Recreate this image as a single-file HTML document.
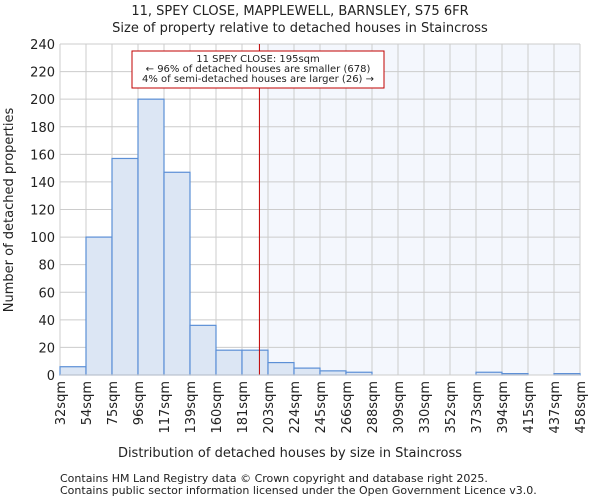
<!DOCTYPE html>
<html><head><meta charset="utf-8"><style>
body{margin:0;background:#fff;font-family:"DejaVu Sans","Liberation Sans",sans-serif;}
svg text{font-family:"DejaVu Sans","Liberation Sans",sans-serif;fill:#222;}
</style></head><body>
<svg id="c" width="600" height="500">
<text x="300" y="15" text-anchor="middle" font-size="13">11, SPEY CLOSE, MAPPLEWELL, BARNSLEY, S75 6FR</text>
<text x="300" y="32" text-anchor="middle" font-size="13">Size of property relative to detached houses in Staincross</text>
<text x="290" y="457" text-anchor="middle" font-size="13">Distribution of detached houses by size in Staincross</text>
<text transform="translate(13,210) rotate(-90)" text-anchor="middle" font-size="13">Number of detached properties</text>
<text x="60" y="482" font-size="11" fill="#444">Contains HM Land Registry data © Crown copyright and database right 2025.</text>
<text x="60" y="494" font-size="11" fill="#444">Contains public sector information licensed under the Open Government Licence v3.0.</text>
<g id="plot"></g>
</svg>
<script>
const edges=["32sqm","54sqm","75sqm","96sqm","117sqm","139sqm","160sqm","181sqm","203sqm","224sqm","245sqm","266sqm","288sqm","309sqm","330sqm","352sqm","373sqm","394sqm","415sqm","437sqm","458sqm"];
const counts=[6,100,157,200,147,36,18,18,9,5,3,2,0,0,0,0,2,1,0,1];
const yTicks=[0,20,40,60,80,100,120,140,160,180,200,220,240];
const markerIndex=7.67;
const NS="http://www.w3.org/2000/svg";
const L=60,R=580,T=44,B=375,yMax=240;
const bw=(R-L)/counts.length;
const xs=i=>L+i*bw, ys=v=>B-(B-T)*v/yMax;
const g=document.getElementById('plot');
function mk(t,a){const e=document.createElementNS(NS,t);for(const k in a)e.setAttribute(k,a[k]);g.appendChild(e);return e;}
const mx=xs(markerIndex);
let e=mk('rect',{x:mx,y:T,width:R-mx,height:B-T,fill:'#f4f7fd'});


yTicks.forEach(v=>{
 let l=mk('line',{x1:L,x2:R,y1:ys(v),y2:ys(v),stroke:'#ccc'});
 
 
 let t=mk('text',{x:L-5,y:ys(v)+5,'text-anchor':'end','font-size':13});
 t.textContent=v;
 
 
});
edges.forEach((s,i)=>{
 let l=mk('line',{x1:xs(i),x2:xs(i),y1:T,y2:B,stroke:'#ccc'});
 
 
 let t=mk('text',{transform:`translate(${xs(i)+5},${B+6}) rotate(-90)`,'text-anchor':'end','font-size':13});
 t.textContent=s;
 
 
});
counts.forEach((v,i)=>{
 if(v<=0)return;
 let r=mk('rect',{x:xs(i),y:ys(v),width:bw,height:B-ys(v),fill:'#dce6f4',stroke:'#5b8fd6','stroke-width':1.2});
 
 
});
e=mk('line',{x1:mx,x2:mx,y1:T,y2:B,stroke:'#c00000','stroke-width':1});


e=mk('rect',{x:132,y:51,width:252,height:37,fill:'#fff',stroke:'#c00000'});


["11 SPEY CLOSE: 195sqm","← 96% of detached houses are smaller (678)","4% of semi-detached houses are larger (26) →"].forEach((s,i)=>{
 let t=mk('text',{x:258,y:62+i*10,'text-anchor':'middle','font-size':10});
 t.textContent=s;
 
 
});
e=mk('line',{x1:L,x2:R,y1:B,y2:B,stroke:'#ccc'});


</script>
</body></html>
